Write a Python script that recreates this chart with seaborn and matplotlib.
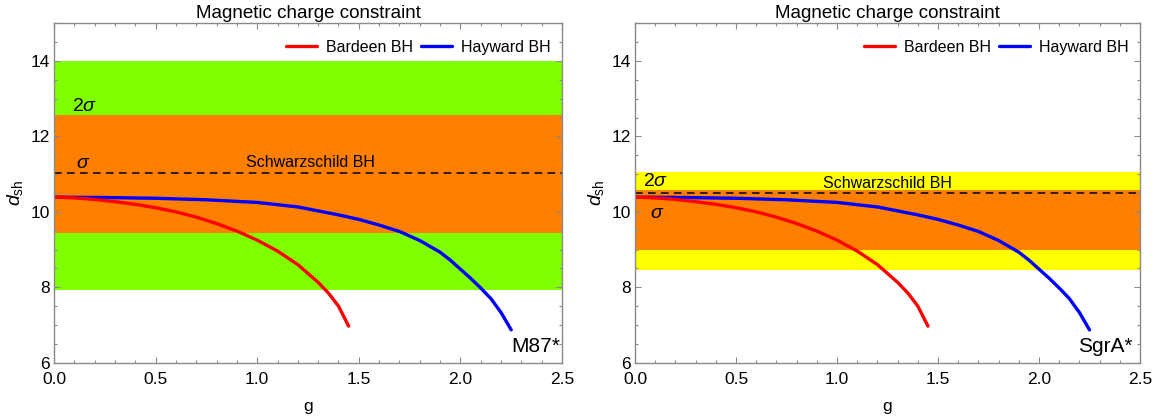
import numpy as np
import pandas as pd
import matplotlib
matplotlib.use("Agg")
import matplotlib.pyplot as plt
from matplotlib.ticker import MultipleLocator, FormatStrFormatter
import seaborn as sns

# ---------------- data ----------------
bardeen_g = [0.0, 0.1, 0.2, 0.3, 0.4, 0.5, 0.6, 0.7, 0.8, 0.9, 1.0, 1.1, 1.2, 1.3, 1.35, 1.40, 1.45]
bardeen_d = [10.39, 10.37, 10.33, 10.27, 10.20, 10.11, 10.00, 9.86, 9.69, 9.49, 9.25, 8.96, 8.60, 8.13, 7.85, 7.50, 6.97]

hayward_g = [0.0, 0.25, 0.5, 0.75, 1.0, 1.2, 1.4, 1.5, 1.6, 1.7, 1.8, 1.9, 1.95, 2.0, 2.05, 2.1, 2.15, 2.2, 2.25]
hayward_d = [10.39, 10.38, 10.36, 10.32, 10.25, 10.13, 9.92, 9.80, 9.65, 9.48, 9.24, 8.93, 8.72, 8.48, 8.24, 7.98, 7.70, 7.33, 6.87]

panels = ["M87*", "SgrA*"]
schwarzschild_d = [11.03, 10.50]
band_1sigma = [(9.45, 12.56), (8.98, 10.59)]
band_2sigma = [(7.92, 14.0), (8.46, 11.05)]
band_2sigma_colors = ["#80FF00", "#FFFF00"]
band_1sigma_color = "#FF8000"

x_ticks = [0.0, 0.5, 1.0, 1.5, 2.0, 2.5]
y_ticks = [6, 8, 10, 12, 14]

# label positions (g, d)
two_sigma_pos = [(0.09, 12.80), (0.04, 10.80)]
sigma_pos = [(0.11, 11.29), (0.075, 9.95)]
schw_text_pos = [(1.26, 11.20), (1.25, 10.64)]
name_pos = [(2.49, 6.28), (2.465, 6.29)]

df = pd.concat([
    pd.DataFrame({"g": hayward_g, "d": hayward_d, "model": "Hayward BH"}),
    pd.DataFrame({"g": bardeen_g, "d": bardeen_d, "model": "Bardeen BH"}),
], ignore_index=True)

# ---------------- style ----------------
sns.set_style("ticks")
plt.rcParams["font.family"] = ["Liberation Sans", "DejaVu Sans"]
plt.rcParams["mathtext.fontset"] = "custom"
plt.rcParams["mathtext.rm"] = "Liberation Sans"
plt.rcParams["mathtext.it"] = "Liberation Sans:italic"
plt.rcParams["mathtext.bf"] = "Liberation Sans:bold"
plt.rcParams["text.color"] = "black"
plt.rcParams["axes.labelcolor"] = "black"
plt.rcParams["xtick.color"] = "black"
plt.rcParams["ytick.color"] = "black"
plt.rcParams["axes.titlecolor"] = "black"

fig = plt.figure(figsize=(11.54, 4.18), dpi=100)
axes = [fig.add_axes([0.0468, 0.1323, 0.4402, 0.812]),
        fig.add_axes([0.5503, 0.1323, 0.4376, 0.812])]

gray = "#8a8a8a"
for i, ax in enumerate(axes):
    lo2, hi2 = band_2sigma[i]
    lo1, hi1 = band_1sigma[i]
    ax.axhspan(lo2, hi2, color=band_2sigma_colors[i], lw=0, zorder=0)
    ax.axhspan(lo1, hi1, color=band_1sigma_color, lw=0, zorder=0.5)
    ax.axhline(schwarzschild_d[i], color="black", lw=1.1, ls=(0, (5, 3.5)), zorder=1)

    sns.lineplot(data=df, x="g", y="d", hue="model",
                 hue_order=["Hayward BH", "Bardeen BH"],
                 palette={"Bardeen BH": "#FF0000", "Hayward BH": "#0000FF"},
                 sort=False, estimator=None, lw=2.4, ax=ax, zorder=2)

    ax.set_xlim(0, 2.5)
    ax.set_ylim(6, 15)
    ax.set_xticks(x_ticks)
    ax.set_yticks(y_ticks)
    ax.xaxis.set_minor_locator(MultipleLocator(0.1))
    ax.yaxis.set_minor_locator(MultipleLocator(0.5))
    ax.xaxis.set_major_formatter(FormatStrFormatter("%.1f"))
    ax.yaxis.set_major_formatter(FormatStrFormatter("%d"))
    ax.tick_params(which="both", direction="in", top=True, right=True,
                   color=gray, labelcolor="black", labelsize=12.5, width=0.8)
    ax.tick_params(which="major", length=4.5)
    ax.tick_params(which="minor", length=2.4)
    ax.tick_params(axis="x", which="major", pad=7)
    ax.tick_params(axis="y", which="major", pad=3)
    for s in ax.spines.values():
        s.set_color(gray)
        s.set_linewidth(1.0)

    ax.set_title("Magnetic charge constraint", fontsize=13.5, pad=4, color="black")
    ax.set_xlabel("g", fontsize=12.5, labelpad=8, color="black")
    ax.set_ylabel(r"$d_{\rm sh}$", fontsize=14, labelpad=4, color="black")

    ax.text(*two_sigma_pos[i], r"$2\sigma$", fontsize=14, ha="left", va="center", zorder=3, color="black")
    ax.text(*sigma_pos[i], r"$\sigma$", fontsize=14, ha="left", va="center", zorder=3, color="black")
    ax.text(*schw_text_pos[i], "Schwarzschild BH", fontsize=11.5, ha="center", va="baseline", zorder=3, color="black")
    ax.text(*name_pos[i], panels[i], fontsize=15, ha="right", va="baseline", zorder=3, color="black")

    handles, labels = ax.get_legend_handles_labels()
    order = [labels.index("Bardeen BH"), labels.index("Hayward BH")]
    leg = ax.legend([handles[k] for k in order], [labels[k] for k in order],
                    ncol=2, loc="center right", bbox_to_anchor=(1.0, 0.93),
                    frameon=False, fontsize=11.5, handlelength=1.9,
                    handletextpad=0.6, columnspacing=0.5, borderpad=0.2)
    for t in leg.get_texts():
        t.set_color("black")

fig.savefig("out.png", dpi=100)
